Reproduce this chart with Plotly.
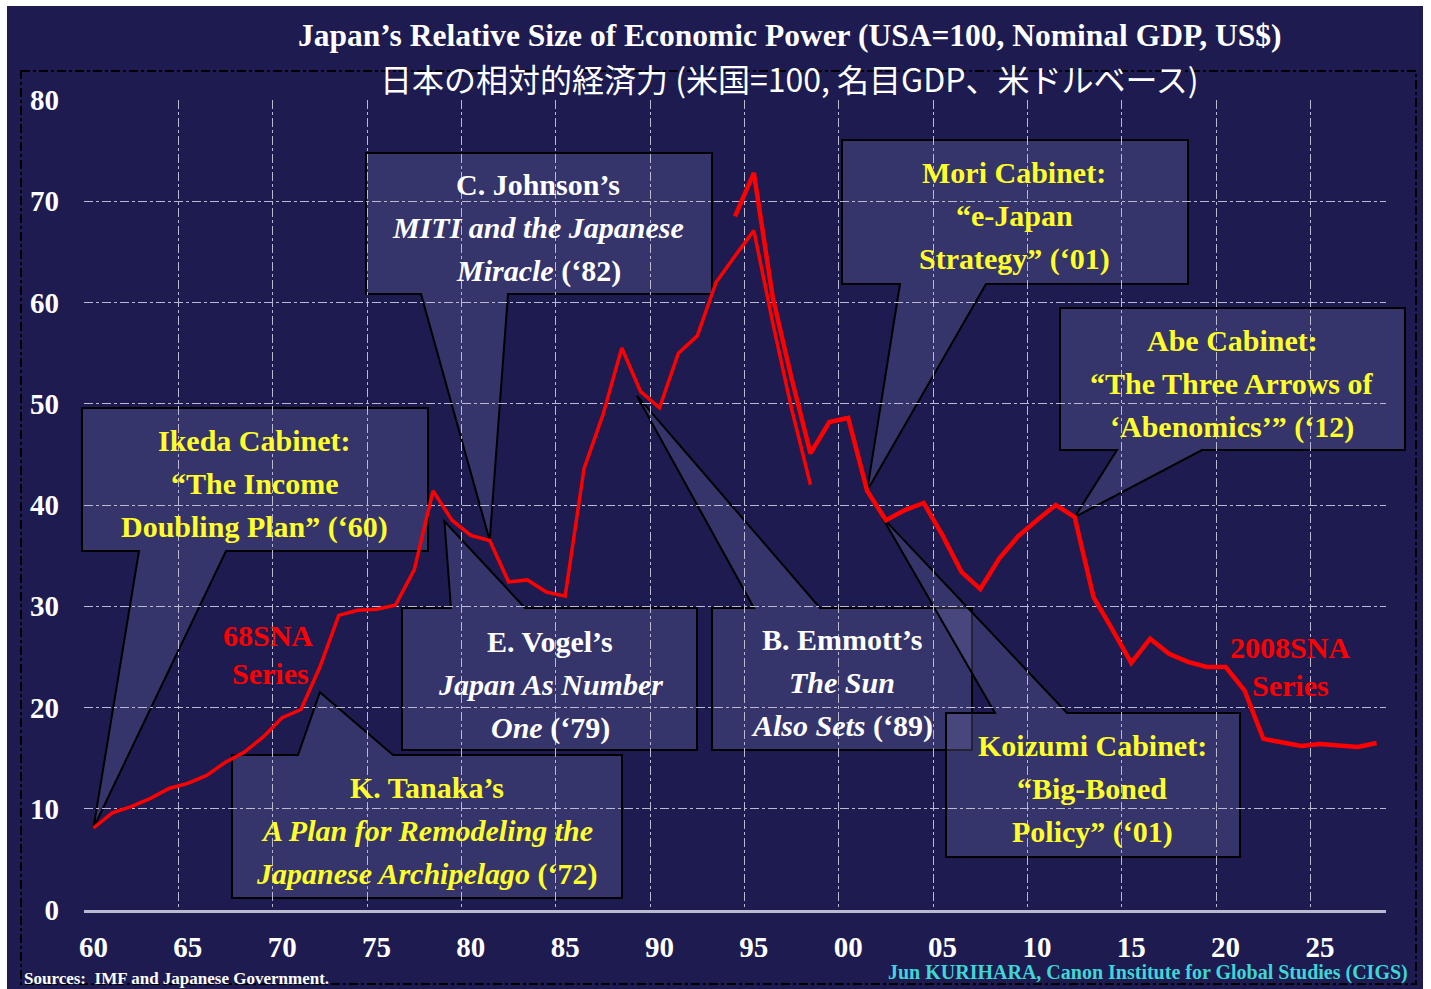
import plotly.graph_objects as go

# ---------------- data ----------------
years_68sna = list(range(1960, 1999))
values_68sna = [8.1, 9.6, 10.2, 11.0, 12.0, 12.5, 13.3, 14.6, 15.6, 17.1,
                19.0, 19.8, 24.0, 29.1, 29.6, 29.7, 30.1, 33.6, 41.4, 38.5,
                37.0, 36.5, 32.4, 32.6, 31.4, 31.0, 43.6, 48.9, 55.5, 51.2,
                49.6, 55.0, 56.7, 62.0, 64.6, 67.1, 58.0, 49.5, 42.0]

years_2008sna = list(range(1994, 2029))
values_2008sna = [68.5, 72.8, 60.5, 52.5, 45.1, 48.2, 48.6, 41.4, 38.5, 39.5,
                  40.2, 37.0, 33.4, 31.7, 34.7, 36.9, 38.5, 40.0, 38.8, 30.9,
                  27.7, 24.4, 26.8, 25.3, 24.5, 24.0, 24.0, 21.7, 16.9, 16.5,
                  16.2, 16.4, 16.3, 16.1, 16.5]

x_tick_years = list(range(1960, 2026, 5))
x_tick_labels = ["60", "65", "70", "75", "80", "85", "90", "95",
                 "00", "05", "10", "15", "20", "25"]
y_tick_values = list(range(0, 81, 10))

title_en = "Japan\u2019s Relative Size of Economic Power (USA=100, Nominal GDP, US$)"
title_ja = "日本の相対的経済力 (米国=100, 名目GDP、米ドルベース)"
source_text = "Sources:  IMF and Japanese Government."
credit_text = "Jun KURIHARA, Canon Institute for Global Studies (CIGS)"

# callout texts and the data point each one points at
callout_texts = {
    "ikeda": ["Ikeda Cabinet:", "\u201cThe Income", "Doubling Plan\u201d (\u201860)"],
    "tanaka": ["K. Tanaka\u2019s", "<i>A Plan for Remodeling the</i>",
               "<i>Japanese Archipelago</i> (\u201872)"],
    "johnson": ["C. Johnson\u2019s", "<i>MITI and the Japanese</i>",
                "<i>Miracle</i> (\u201882)"],
    "vogel": ["E. Vogel\u2019s", "<i>Japan As Number</i>", "<i>One</i> (\u201879)"],
    "emmott": ["B. Emmott\u2019s", "<i>The Sun</i>", "<i>Also Sets</i> (\u201889)"],
    "mori": ["Mori Cabinet:", "\u201ce-Japan", "Strategy\u201d (\u201801)"],
    "abe": ["Abe Cabinet:", "\u201cThe Three Arrows of",
            "\u2018Abenomics\u2019\u201d (\u201812)"],
    "koizumi": ["Koizumi Cabinet:", "\u201cBig-Boned", "Policy\u201d (\u201801)"],
}
callout_tips = {  # (year, value) pointed at
    "ikeda": (1960, values_68sna[0]),
    "tanaka": (1972, 21.5),
    "johnson": (1981, values_68sna[21]),
    "vogel": (1978.6, 38.4),
    "emmott": (1988.8, 50.8),
    "mori": (2001, values_2008sna[7]),
    "abe": (2012, values_2008sna[18]),
    "koizumi": (2001.8, 38.8),
}

# ---------------- layout geometry ----------------
W, H = 1431, 989
ML, MR, MT, MB = 84, 45, 100, 79
PW = W - ML - MR
PH = H - MT - MB
X_RANGE = [1959.5, 2028.5]
Y_RANGE = [0, 80]


def px(x):
    return (x - ML) / PW


def py(y):
    return (H - MB - y) / PH


def dx(year):
    return (year - X_RANGE[0]) / (X_RANGE[1] - X_RANGE[0])


def dy(v):
    return (v - Y_RANGE[0]) / (Y_RANGE[1] - Y_RANGE[0])


YELLOW = "#ffff2a"
WHITE = "#ffffff"
callout_geom = {
    "ikeda": ((82, 408, 428, 551), "bottom", (139, 226), 255, 440, YELLOW),
    "tanaka": ((232, 755, 622, 898), "top", (298, 393), 427, 787, YELLOW),
    "johnson": ((366, 153, 712, 294), "bottom", (421, 508), 538, 184, WHITE),
    "vogel": ((402, 608, 697, 750), "top", (451, 525), 550, 641, WHITE),
    "emmott": ((712, 608, 972, 750), "top", (754, 820), 842, 639, WHITE),
    "mori": ((842, 140, 1188, 284), "bottom", (900, 986), 1014, 172, YELLOW),
    "abe": ((1060, 308, 1405, 450), "bottom", (1117, 1202), 1232, 340, YELLOW),
    "koizumi": ((946, 713, 1240, 857), "top", (995, 1067), 1092, 745, YELLOW),
}
LINE_GAP = 43.5

NAVY = "#1d1b50"
GRID = "#b9b9cf"
RED = "#ff0000"
SERIF = "Liberation Serif, Times New Roman, serif"

fig = go.Figure()
fig.add_trace(go.Scatter(x=years_68sna, y=values_68sna, mode="lines",
                         line=dict(color=RED, width=3.5), name="68SNA Series",
                         hoverinfo="x+y"))
fig.add_trace(go.Scatter(x=years_2008sna, y=values_2008sna, mode="lines",
                         line=dict(color=RED, width=4.5), name="2008SNA Series",
                         hoverinfo="x+y"))

shapes = []
shapes.append(dict(type="rect", xref="paper", yref="paper",
                   x0=px(7), x1=px(1423), y0=py(6), y1=py(989),
                   fillcolor=NAVY, line=dict(width=0), layer="below"))
shapes.append(dict(type="rect", xref="paper", yref="paper",
                   x0=px(21), x1=px(1416), y0=py(71), y1=py(984),
                   fillcolor="rgba(0,0,0,0)",
                   line=dict(color="#000000", width=2, dash="dashdot"),
                   layer="below"))

order = ["ikeda", "tanaka", "johnson", "vogel", "emmott", "mori", "abe", "koizumi"]
for key in order:
    (x0, y0, x1, y1), side, (xa, xb), _, _, _ = callout_geom[key]
    ty, tv = callout_tips[key]
    tip = (dx(ty), dy(tv))
    X0, X1, Y0, Y1 = px(x0), px(x1), py(y0), py(y1)
    XA, XB = px(xa), px(xb)
    if side == "bottom":
        pts = [(X0, Y0), (X1, Y0), (X1, Y1), (XB, Y1), tip, (XA, Y1), (X0, Y1)]
    else:
        pts = [(X0, Y0), (XA, Y0), tip, (XB, Y0), (X1, Y0), (X1, Y1), (X0, Y1)]
    path = "M " + " L ".join(f"{a:.5f},{b:.5f}" for a, b in pts) + " Z"
    shapes.append(dict(type="path", xref="paper", yref="paper", path=path,
                       fillcolor="rgba(108,108,165,0.32)",
                       line=dict(color="#000000", width=2), layer="below"))

annotations = []


def add_text(text, x, y, size, color, weight="bold", xanchor="center", family=SERIF):
    annotations.append(dict(text=text, x=px(x), y=py(y), xref="paper", yref="paper",
                            xanchor=xanchor, yanchor="middle", showarrow=False,
                            font=dict(family=family, size=size, color=color,
                                      weight=weight)))


for key in order:
    _, _, _, cx, cy, col = callout_geom[key]
    for i, line in enumerate(callout_texts[key]):
        add_text(line, cx, cy + i * LINE_GAP, 30, col)

add_text("68SNA", 268, 635, 30, RED)
add_text("Series", 270, 673, 30, RED)
add_text("2008SNA", 1290, 647, 30, RED)
add_text("Series", 1290, 685, 30, RED)

add_text(title_en, 790, 36, 31.5, WHITE)
add_text(title_ja, 790, 78, 32, WHITE, weight="normal",
         family="Noto Sans CJK JP, Noto Sans CJK SC, sans-serif")

add_text(source_text, 22, 978, 17, WHITE, xanchor="left")
annotations.append(dict(text=credit_text, x=px(1410), y=py(972), xref="paper",
                        yref="paper", xanchor="right", yanchor="middle",
                        showarrow=False,
                        font=dict(family=SERIF, size=20, color="#3fd6d6",
                                  weight="bold")))

fig.update_layout(
    width=W, height=H,
    margin=dict(l=ML, r=MR, t=MT, b=MB, pad=0),
    paper_bgcolor="#ffffff",
    plot_bgcolor="rgba(0,0,0,0)",
    showlegend=False,
    shapes=shapes,
    annotations=annotations,
    xaxis=dict(range=X_RANGE, tickmode="array", tickvals=x_tick_years,
               ticktext=x_tick_labels, showgrid=False, zeroline=False,
               showline=True, linecolor=GRID, linewidth=3,
               ticks="", ticklabelstandoff=9,
               tickfont=dict(family=SERIF, size=29, color=WHITE, weight="bold"),
               minor=dict(tick0=1959.5, dtick=5, showgrid=True, gridcolor=GRID,
                          griddash="dashdot", gridwidth=1.3),
               fixedrange=True),
    yaxis=dict(range=Y_RANGE, tickmode="array", tickvals=y_tick_values,
               showgrid=True, gridcolor=GRID, griddash="dashdot", gridwidth=1.3,
               zeroline=False, showline=False, ticks="", ticklabelstandoff=24,
               tickfont=dict(family=SERIF, size=29, color=WHITE, weight="bold"),
               fixedrange=True),
)

fig.write_html("out.html", config={"displayModeBar": False},
               post_script="document.body.style.margin='0';document.body.style.overflow='hidden';")
